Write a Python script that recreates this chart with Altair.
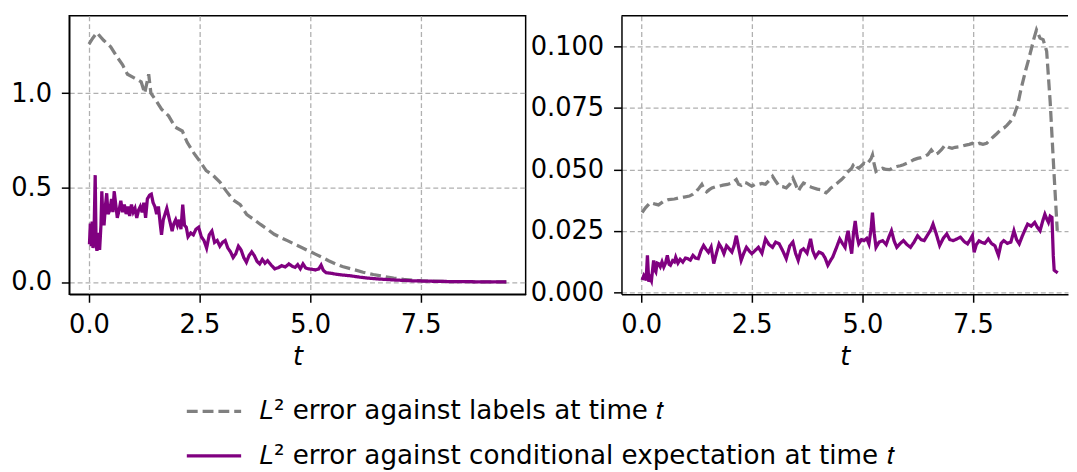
import altair as alt
import pandas as pd

LBL = "𝐿² error against labels at time 𝑡"
CND = "𝐿² error against conditional expectation at time 𝑡"

# ---- left panel: error against labels (gray dashed)
left_lbl_t = [0.0, 0.08, 0.18, 0.33, 0.49, 0.64, 0.76, 0.87, 1.03, 1.18, 1.26, 1.35, 1.40, 1.49, 1.64,
              1.80, 1.95, 2.11, 2.22, 2.38, 2.49, 2.65, 2.80, 2.96, 3.11, 3.26, 3.42, 3.57, 3.73, 3.88,
              4.04, 4.19, 4.34, 4.50, 4.65, 4.81, 4.96, 5.12, 5.27, 5.42, 5.58, 5.73, 5.96, 6.20, 6.43,
              6.66, 6.89, 7.12, 7.35, 7.66, 8.05, 8.43, 8.82, 9.21, 9.44]
left_lbl_v = [1.26, 1.29, 1.32, 1.28, 1.245, 1.19, 1.15, 1.10, 1.08, 1.06, 1.0, 1.10, 1.0, 0.97, 0.915,
              0.88, 0.82, 0.80, 0.74, 0.68, 0.645, 0.59, 0.566, 0.53, 0.48, 0.435, 0.41, 0.357, 0.331, 0.305,
              0.279, 0.253, 0.235, 0.218, 0.2, 0.183, 0.166, 0.148, 0.131, 0.113, 0.096, 0.082, 0.068, 0.052, 0.040,
              0.030, 0.021, 0.014, 0.009, 0.005, 0.003, 0.002, 0.001, 0.0005, 0.0003]

# ---- left panel: error against conditional expectation (purple)
left_cnd_t = [0.01, 0.03, 0.05, 0.07, 0.09, 0.12, 0.14, 0.16, 0.18, 0.21, 0.24, 0.27, 0.29, 0.31, 0.34,
              0.37, 0.40, 0.43, 0.47, 0.51, 0.54, 0.57, 0.61, 0.64, 0.68, 0.72, 0.76, 0.80, 0.84, 0.88,
              0.92, 0.96, 1.00, 1.04, 1.08, 1.12, 1.16, 1.20, 1.24, 1.28, 1.32, 1.37, 1.41, 1.45, 1.49,
              1.53, 1.57, 1.61, 1.64, 1.68, 1.72, 1.76, 1.80, 1.84, 1.88, 1.92, 1.96, 2.00, 2.04, 2.08,
              2.12, 2.16, 2.20, 2.24, 2.30, 2.36, 2.42, 2.48, 2.54, 2.60, 2.66, 2.72, 2.78, 2.84, 2.90,
              2.96, 3.02, 3.08, 3.14, 3.20, 3.26, 3.32, 3.38, 3.44, 3.50, 3.56, 3.62, 3.68, 3.74, 3.80,
              3.86, 3.92, 3.98, 4.04, 4.12, 4.20, 4.28, 4.36, 4.44, 4.52, 4.60, 4.66, 4.72, 4.78, 4.84,
              4.90, 4.96, 5.04, 5.12, 5.20, 5.25, 5.30, 5.36, 5.46, 5.58, 5.70, 5.80, 5.95, 6.12, 6.30,
              6.50, 6.70, 6.89, 7.10, 7.28, 7.60, 8.05, 8.50, 9.00, 9.44]
left_cnd_v = [0.20, 0.31, 0.19, 0.32, 0.18, 0.33, 0.566, 0.20, 0.165, 0.26, 0.17, 0.30, 0.48, 0.36, 0.30,
              0.40, 0.47, 0.36, 0.38, 0.44, 0.37, 0.48, 0.40, 0.34, 0.38, 0.43, 0.37, 0.41, 0.36, 0.40,
              0.35, 0.41, 0.37, 0.39, 0.34, 0.38, 0.40, 0.37, 0.42, 0.34, 0.44, 0.46, 0.465, 0.42, 0.40,
              0.36, 0.40, 0.31, 0.25, 0.33, 0.36, 0.39, 0.35, 0.31, 0.27, 0.31, 0.33, 0.30, 0.33, 0.28,
              0.41, 0.30, 0.29, 0.24, 0.26, 0.25, 0.28, 0.29, 0.24, 0.22, 0.18, 0.25, 0.27, 0.21, 0.22,
              0.19, 0.21, 0.22, 0.18, 0.16, 0.13, 0.15, 0.19, 0.17, 0.13, 0.105, 0.14, 0.16, 0.14, 0.11,
              0.096, 0.12, 0.10, 0.113, 0.09, 0.07, 0.076, 0.087, 0.08, 0.096, 0.083, 0.078, 0.092, 0.07, 0.096,
              0.075, 0.07, 0.068, 0.064, 0.07, 0.09, 0.062, 0.05, 0.047, 0.042, 0.038, 0.036, 0.032, 0.026, 0.021,
              0.017, 0.014, 0.011, 0.009, 0.007, 0.005, 0.003, 0.002, 0.001, 0.0005]

# ---- right panel: error against labels (gray dashed)
right_lbl_t = [0.02, 0.10, 0.20, 0.30, 0.39, 0.50, 0.62, 0.75, 0.86, 0.97, 1.09, 1.17, 1.25, 1.31, 1.37,
               1.42, 1.48, 1.54, 1.60, 1.68, 1.76, 1.85, 1.95, 2.05, 2.15, 2.20, 2.26, 2.32, 2.38, 2.44,
               2.50, 2.58, 2.65, 2.73, 2.81, 2.89, 2.97, 3.05, 3.12, 3.20, 3.28, 3.36, 3.43, 3.49, 3.55,
               3.61, 3.67, 3.73, 3.79, 3.85, 3.90, 3.98, 4.06, 4.12, 4.18, 4.24, 4.29, 4.35, 4.41, 4.47,
               4.53, 4.59, 4.64, 4.70, 4.76, 4.80, 4.84, 4.88, 4.92, 4.98, 5.04, 5.10, 5.15, 5.20, 5.23,
               5.27, 5.31, 5.38, 5.46, 5.54, 5.62, 5.70, 5.78, 5.86, 5.93, 6.01, 6.09, 6.17, 6.25, 6.33,
               6.40, 6.48, 6.56, 6.64, 6.71, 6.79, 6.87, 6.95, 7.03, 7.10, 7.18, 7.26, 7.34, 7.42, 7.49,
               7.57, 7.65, 7.73, 7.81, 7.88, 7.96, 8.04, 8.12, 8.20, 8.27, 8.35, 8.43, 8.51, 8.59, 8.65,
               8.70, 8.76, 8.82, 8.88, 8.94, 8.98, 9.02, 9.09, 9.17, 9.25, 9.33, 9.41]
right_lbl_v = [0.0325, 0.0345, 0.0365, 0.0360, 0.0356, 0.0370, 0.0378, 0.0380, 0.0385, 0.0388, 0.0392, 0.0400, 0.0412, 0.0425, 0.0439,
               0.0420, 0.0409, 0.0418, 0.0425, 0.0430, 0.0432, 0.0436, 0.0439, 0.0445, 0.0459, 0.0440, 0.0436, 0.0448, 0.0445, 0.0438,
               0.0432, 0.0440, 0.0439, 0.0443, 0.0440, 0.0455, 0.0472, 0.0450, 0.0432, 0.0430, 0.0425, 0.0440, 0.0465, 0.0440, 0.0412,
               0.0430, 0.0445, 0.0440, 0.0432, 0.0428, 0.0425, 0.0420, 0.0418, 0.0410, 0.0405, 0.0415, 0.0425, 0.0432, 0.0441, 0.0450,
               0.0459, 0.0470, 0.0485, 0.0495, 0.0505, 0.0520, 0.0525, 0.0510, 0.0505, 0.0515, 0.0525, 0.0520, 0.0532, 0.0545, 0.0559,
               0.0520, 0.0492, 0.0500, 0.0505, 0.0500, 0.0499, 0.0508, 0.0512, 0.0515, 0.0519, 0.0525, 0.0532, 0.0540, 0.0545, 0.0548,
               0.0552, 0.0560, 0.0579, 0.0560, 0.0566, 0.0580, 0.0599, 0.0590, 0.0586, 0.0590, 0.0592, 0.0595, 0.0599, 0.0602, 0.0606,
               0.0600, 0.0606, 0.0602, 0.0606, 0.0618, 0.0632, 0.0645, 0.0659, 0.0668, 0.0679, 0.0695, 0.0719, 0.0759, 0.0826, 0.0870,
               0.0906, 0.0945, 0.0987, 0.1030, 0.1067, 0.1050, 0.1033, 0.1027, 0.0980, 0.0773, 0.0505, 0.0251]

# ---- right panel: error against conditional expectation (purple)
right_cnd_t = [0.02, 0.06, 0.08, 0.11, 0.14, 0.17, 0.20, 0.23, 0.28, 0.31, 0.33, 0.36, 0.39, 0.43, 0.47,
               0.51, 0.55, 0.59, 0.63, 0.66, 0.71, 0.75, 0.78, 0.83, 0.88, 0.94, 1.00, 1.05, 1.11, 1.17,
               1.23, 1.29, 1.35, 1.41, 1.47, 1.52, 1.58, 1.64, 1.70, 1.76, 1.82, 1.87, 1.93, 1.99, 2.05,
               2.10, 2.15, 2.20, 2.26, 2.32, 2.38, 2.44, 2.50, 2.57, 2.65, 2.73, 2.81, 2.89, 2.97, 3.04,
               3.12, 3.20, 3.28, 3.36, 3.43, 3.49, 3.55, 3.61, 3.67, 3.75, 3.83, 3.88, 3.94, 4.02, 4.10,
               4.16, 4.22, 4.28, 4.33, 4.41, 4.49, 4.55, 4.61, 4.65, 4.68, 4.72, 4.76, 4.80, 4.84, 4.88,
               4.92, 4.98, 5.04, 5.10, 5.15, 5.20, 5.23, 5.27, 5.31, 5.38, 5.46, 5.54, 5.60, 5.66, 5.72,
               5.78, 5.86, 5.93, 6.01, 6.09, 6.17, 6.25, 6.33, 6.40, 6.48, 6.55, 6.60, 6.67, 6.75, 6.83,
               6.91, 6.98, 7.06, 7.14, 7.22, 7.30, 7.38, 7.44, 7.49, 7.53, 7.58, 7.64, 7.69, 7.77, 7.85,
               7.92, 8.00, 8.08, 8.14, 8.20, 8.28, 8.36, 8.43, 8.49, 8.55, 8.62, 8.68, 8.74, 8.82, 8.90,
               8.96, 9.02, 9.08, 9.13, 9.17, 9.21, 9.25, 9.29, 9.32, 9.34, 9.42]
right_cnd_v = [0.0051, 0.0070, 0.0064, 0.0050, 0.0151, 0.0044, 0.0060, 0.0048, 0.0131, 0.0090, 0.0084, 0.0120, 0.0118, 0.0105, 0.0125,
               0.0104, 0.0120, 0.0151, 0.0115, 0.0111, 0.0130, 0.0125, 0.0144, 0.0120, 0.0135, 0.0124, 0.0140, 0.0138, 0.0132, 0.0151,
               0.0140, 0.0138, 0.0170, 0.0191, 0.0175, 0.0164, 0.0185, 0.0118, 0.0160, 0.0198, 0.0180, 0.0158, 0.0190, 0.0178, 0.0165,
               0.0190, 0.0231, 0.0185, 0.0131, 0.0160, 0.0184, 0.0170, 0.0158, 0.0170, 0.0184, 0.0160, 0.0218, 0.0195, 0.0184, 0.0205,
               0.0198, 0.0170, 0.0138, 0.0190, 0.0205, 0.0160, 0.0131, 0.0170, 0.0178, 0.0160, 0.0218, 0.0170, 0.0144, 0.0165, 0.0158,
               0.0140, 0.0111, 0.0130, 0.0144, 0.0180, 0.0218, 0.0200, 0.0184, 0.0230, 0.0251, 0.0200, 0.0158, 0.0240, 0.0291, 0.0230,
               0.0198, 0.0215, 0.0211, 0.0220, 0.0198, 0.0260, 0.0325, 0.0240, 0.0184, 0.0205, 0.0211, 0.0195, 0.0225, 0.0251, 0.0210,
               0.0184, 0.0200, 0.0211, 0.0195, 0.0184, 0.0205, 0.0231, 0.0215, 0.0211, 0.0235, 0.0255, 0.0278, 0.0240, 0.0191, 0.0220,
               0.0238, 0.0215, 0.0211, 0.0218, 0.0225, 0.0208, 0.0198, 0.0215, 0.0231, 0.0164, 0.0195, 0.0210, 0.0205, 0.0200, 0.0218,
               0.0200, 0.0190, 0.0151, 0.0200, 0.0211, 0.0200, 0.0205, 0.0251, 0.0215, 0.0198, 0.0230, 0.0255, 0.0278, 0.0270, 0.0285,
               0.0265, 0.0251, 0.0290, 0.0318, 0.0300, 0.0285, 0.0310, 0.0305, 0.0150, 0.0091, 0.0080]

x_ticks = [0, 2.5, 5.0, 7.5]
left_y_ticks = [0.0, 0.5, 1.0]
right_y_ticks = [0.0, 0.025, 0.05, 0.075, 0.1]


def frame(ts, vs, name):
    return pd.DataFrame({"t": ts, "v": vs, "series": name})


left_df = pd.concat([frame(left_lbl_t, left_lbl_v, LBL), frame(left_cnd_t, left_cnd_v, CND)])
right_df = pd.concat([frame(right_lbl_t, right_lbl_v, LBL), frame(right_cnd_t, right_cnd_v, CND)])

FONT = "DejaVu Sans"

leg = alt.Legend(
    orient="none", legendX=117, legendY=388, direction="vertical", title=None,
    symbolType="stroke", symbolSize=3025, symbolStrokeWidth=3.2,
    labelFont=FONT, labelFontSize=26.5, labelColor="black", labelOffset=16, labelLimit=0,
    clipHeight=25, rowPadding=18, padding=0,
)

color = alt.Color("series:N", sort=[LBL, CND],
                  scale=alt.Scale(domain=[LBL, CND], range=["#808080", "#800080"]), legend=leg)
dash = alt.StrokeDash("series:N", sort=[LBL, CND],
                      scale=alt.Scale(domain=[LBL, CND], range=[[11, 5], [1, 0]]), legend=leg)

x_axis = alt.Axis(values=x_ticks, format=".1f", title="t")

left = alt.Chart(left_df).mark_line(strokeWidth=3.3, clip=True).encode(
    x=alt.X("t:Q", scale=alt.Scale(domain=[-0.447, 9.877], nice=False, zero=False), axis=x_axis),
    y=alt.Y("v:Q", scale=alt.Scale(domain=[-0.065, 1.41], nice=False, zero=False),
            axis=alt.Axis(values=left_y_ticks, format=".1f", title=None)),
    color=color,
    strokeDash=dash,
    order="t:Q",
).properties(width=462, height=282, view=alt.ViewBackground(stroke="black", strokeWidth=1.5))

right_line = alt.Chart(right_df).mark_line(strokeWidth=3.3, clip=True).encode(
    x=alt.X("t:Q", scale=alt.Scale(domain=[-0.447, 9.653], nice=False, zero=False), axis=x_axis),
    y=alt.Y("v:Q", scale=alt.Scale(domain=[-0.0007, 0.1124], nice=False, zero=False),
            axis=alt.Axis(values=right_y_ticks, format=".3f", title=None)),
    color=color,
    strokeDash=dash,
    order="t:Q",
)
top_edge = alt.Chart(pd.DataFrame({"a": [0]})).mark_rule(color="black", strokeWidth=1.5).encode(
    y=alt.value(0)
)
right = alt.layer(right_line, top_edge).properties(width=452, height=282)

chart = alt.hconcat(left, right, spacing=3).properties(
    padding={"left": 1, "top": 4, "right": 0, "bottom": 0}
).configure_view(stroke=None).configure_axis(
    labelFont=FONT, labelFontSize=26, labelColor="black",
    tickColor="black", tickSize=8, tickWidth=1.5,
    domainColor="black", domainWidth=1.5, labelPadding=10,
    gridColor="#b0b0b0", gridDash=[5, 3], gridWidth=1.3,
    titleFont=FONT, titleFontSize=26, titleFontStyle="italic", titleFontWeight="normal",
    titleColor="black", titlePadding=6,
)

chart.save("out.html", embed_options={"renderer": "svg", "actions": False})
